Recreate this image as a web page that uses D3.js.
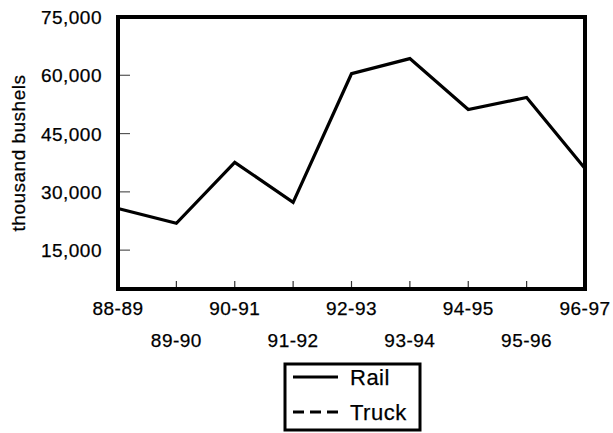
<!DOCTYPE html>
<html lang="en">
<head>
    <meta charset="UTF-8">
    <title>Rail and Truck Shipments</title>
    <script src="https://cdnjs.cloudflare.com/ajax/libs/d3/7.8.5/d3.js"></script>
    <style>
        body { margin: 0; background: #fff; font-family: "Liberation Sans", Arial, sans-serif; }
        svg text { fill: #000; stroke: #000; stroke-width: 0.25px; letter-spacing: 0.5px; }
    </style>
</head>
<body>
<svg width="613" height="433"></svg>

<script>
    // crop years on the x axis
    const seasons = ["88-89", "89-90", "90-91", "91-92", "92-93", "93-94", "94-95", "95-96", "96-97"];
    // thousand bushels
    const railValues = [25700, 21900, 37600, 27300, 60400, 64300, 51200, 54300, 36000];
    // truck line is not visible inside the plot area
    const truckValues = [null, null, null, null, null, null, null, null, null];
    const yTicks = [15000, 30000, 45000, 60000, 75000];
    const seriesNames = ["Rail", "Truck"];

    const svg = d3.select("svg");
    const plotLeft = 118, plotRight = 585, plotTop = 17, plotBottom = 289;

    const x = d3.scalePoint().domain(seasons).range([plotLeft, plotRight]);
    const y = d3.scaleLinear().domain([5000, 75000]).range([plotBottom, plotTop]);

    // y tick labels
    svg.append("g")
        .selectAll("text")
        .data(yTicks)
        .enter()
        .append("text")
        .attr("x", 102)
        .attr("y", d => y(d) + 7)
        .attr("text-anchor", "end")
        .attr("font-size", "19px")
        .text(d => d3.format(",")(d));

    // inward ticks on the y axis
    svg.append("g")
        .selectAll("line")
        .data(yTicks.filter(d => d < 75000))
        .enter()
        .append("line")
        .attr("x1", plotLeft)
        .attr("x2", plotLeft + 12)
        .attr("y1", d => y(d))
        .attr("y2", d => y(d))
        .attr("stroke", "#555")
        .attr("stroke-width", 1.2);

    // inward ticks on the x axis
    svg.append("g")
        .selectAll("line")
        .data(seasons.slice(1, -1))
        .enter()
        .append("line")
        .attr("x1", d => x(d))
        .attr("x2", d => x(d))
        .attr("y1", plotBottom)
        .attr("y2", plotBottom - 8)
        .attr("stroke", "#333")
        .attr("stroke-width", 1.2);

    // x labels alternate between two rows
    svg.append("g")
        .selectAll("text")
        .data(seasons)
        .enter()
        .append("text")
        .attr("x", d => x(d))
        .attr("y", (d, i) => i % 2 === 0 ? 315 : 347)
        .attr("text-anchor", "middle")
        .attr("font-size", "19px")
        .text(d => d);

    // axis title
    svg.append("text")
        .attr("transform", "translate(25," + ((plotTop + plotBottom) / 2) + ") rotate(-90)")
        .attr("text-anchor", "middle")
        .attr("font-size", "19px")
        .text("thousand bushels");

    // lines
    const line = d3.line()
        .defined(d => d != null)
        .x((d, i) => x(seasons[i]))
        .y(d => y(d));

    svg.append("path")
        .datum(railValues)
        .attr("d", line)
        .attr("fill", "none")
        .attr("stroke", "#000")
        .attr("stroke-width", 3.2)
        .attr("stroke-linejoin", "miter");

    svg.append("path")
        .datum(truckValues)
        .attr("d", line)
        .attr("fill", "none")
        .attr("stroke", "#000")
        .attr("stroke-width", 3.2)
        .attr("stroke-dasharray", "11,6");

    // plot frame
    svg.append("rect")
        .attr("x", plotLeft)
        .attr("y", plotTop)
        .attr("width", plotRight - plotLeft)
        .attr("height", plotBottom - plotTop)
        .attr("fill", "none")
        .attr("stroke", "#000")
        .attr("stroke-width", 4);

    // legend
    const lg = svg.append("g").attr("transform", "translate(285,364)");
    lg.append("rect")
        .attr("width", 135)
        .attr("height", 66)
        .attr("fill", "#fff")
        .attr("stroke", "#000")
        .attr("stroke-width", 3);

    const item = lg.selectAll("g.item")
        .data(seriesNames)
        .enter()
        .append("g")
        .attr("class", "item")
        .attr("transform", (d, i) => "translate(0," + (13 + i * 35) + ")");

    item.append("line")
        .attr("x1", 8)
        .attr("x2", 53)
        .attr("y1", 0)
        .attr("y2", 0)
        .attr("stroke", "#000")
        .attr("stroke-width", 3.2)
        .attr("stroke-dasharray", d => d === "Truck" ? "11,6" : null);

    item.append("text")
        .attr("x", 65)
        .attr("y", 8)
        .attr("font-size", "22px")
        .text(d => d);
</script>
</body>
</html>
